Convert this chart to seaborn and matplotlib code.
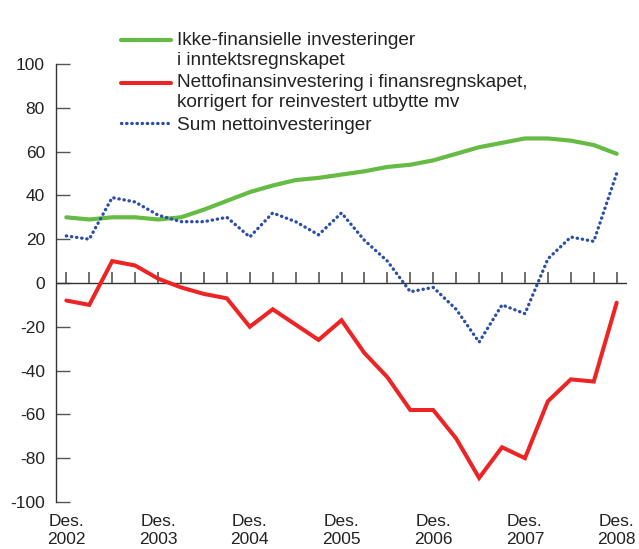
import matplotlib
matplotlib.use("Agg")
import matplotlib.pyplot as plt
import matplotlib.transforms as mtransforms
import seaborn as sns
import numpy as np
import pandas as pd

# Quarterly data, Des. 2002 - Des. 2008 (mrd. kroner)
kvartal = [str(p) for p in pd.period_range("2002Q4", "2008Q4", freq="Q")]

ikke_finansielle = [30, 29, 30, 30, 29, 30, 33.5, 37.5, 41.5, 44.5, 47, 48, 49.5,
                    51, 53, 54, 56, 59, 62, 64, 66, 66, 65, 63, 59]
nettofinans = [-8, -10, 10, 8, 2, -2, -5, -7, -20, -12, -19, -26, -17,
               -32, -43, -58, -58, -71, -89, -75, -80, -54, -44, -45, -9]
sum_netto = [21.5, 20, 39, 37, 31, 28, 28, 30, 21, 32, 28, 22, 32,
             19.5, 10, -4, -2, -12, -27, -10, -14, 11, 21, 19, 50]

year_labels = ["Des.\n2002", "Des.\n2003", "Des.\n2004", "Des.\n2005",
               "Des.\n2006", "Des.\n2007", "Des.\n2008"]

labels = ["Ikke-finansielle investeringer\ni inntektsregnskapet",
          "Nettofinansinvestering i finansregnskapet,\nkorrigert for reinvestert utbytte mv",
          "Sum nettoinvesteringer"]

df = pd.DataFrame({
    "kvartal": kvartal,
    "pos": range(len(kvartal)),
    "ikke": ikke_finansielle,
    "netto": nettofinans,
    "sum": sum_netto,
})

sns.set_theme(style="white")
plt.rcParams["font.family"] = ["Liberation Sans", "DejaVu Sans"]
plt.rcParams["axes.unicode_minus"] = False
plt.rcParams["ytick.left"] = True

fig = plt.figure(figsize=(6.39, 5.49), dpi=100)
ax = fig.add_axes([56 / 639, 1 - 502 / 549, (627 - 56) / 639, (502 - 64) / 549])

# zero line with quarterly tick marks
trans = mtransforms.blended_transform_factory(ax.transData, ax.transAxes)
ax.axhline(0, color="#333333", lw=1.0, zorder=2)
ax.vlines(df["pos"], 0.5, 0.5 + 11 / 438, transform=trans, color="#555555",
          lw=1.2, zorder=2, clip_on=False)

sns.lineplot(data=df, x="pos", y="ikke", ax=ax, color="#66BB44", lw=3.0,
             label=labels[0], zorder=3)
sns.lineplot(data=df, x="pos", y="netto", ax=ax, color="#EE2424", lw=2.9,
             label=labels[1], solid_joinstyle="miter", zorder=3)
sns.lineplot(data=df, x="pos", y="sum", ax=ax, color="#2B4FA8", lw=2.4,
             linestyle=(0, (0.1, 1.45)), dash_capstyle="round", label=labels[2],
             zorder=3)

ax.set_xlim(-0.45, len(kvartal) - 1 + 0.45)
ax.set_ylim(-100, 100)
ax.set_yticks(range(-100, 101, 20))
ax.set_xticks([])
ax.set_xlabel("")
ax.set_ylabel("")

for s in ["top", "right", "bottom"]:
    ax.spines[s].set_visible(False)
ax.spines["left"].set_color("#333333")
ax.spines["left"].set_linewidth(1.0)
ax.tick_params(axis="y", left=True, direction="in", length=10, width=1.0,
               color="#555555", labelsize=12.5, pad=8, labelcolor="#222222")

# year labels below the plot area
for xpos, lab in zip(df["pos"][::4], year_labels):
    ax.text(xpos, -0.027, lab, transform=trans, ha="center", va="top",
            fontsize=12.5, color="#222222", linespacing=1.3)

leg = ax.legend(loc="upper left", bbox_to_anchor=(121 / 639, 1 - 32 / 549),
                bbox_transform=fig.transFigure, frameon=False, fontsize=13.7,
                handlelength=2.65, handletextpad=0.3, labelspacing=0.3,
                borderpad=0, borderaxespad=0)
for t in leg.get_texts():
    t.set_color("#222222")
    t.set_linespacing(1.2)
# align the two-line entries' handles with their first text line
for ln in leg.get_lines()[:2]:
    ln.set_ydata(np.asarray(ln.get_ydata()) + 7.0)

fig.savefig("out.png", dpi=100)
